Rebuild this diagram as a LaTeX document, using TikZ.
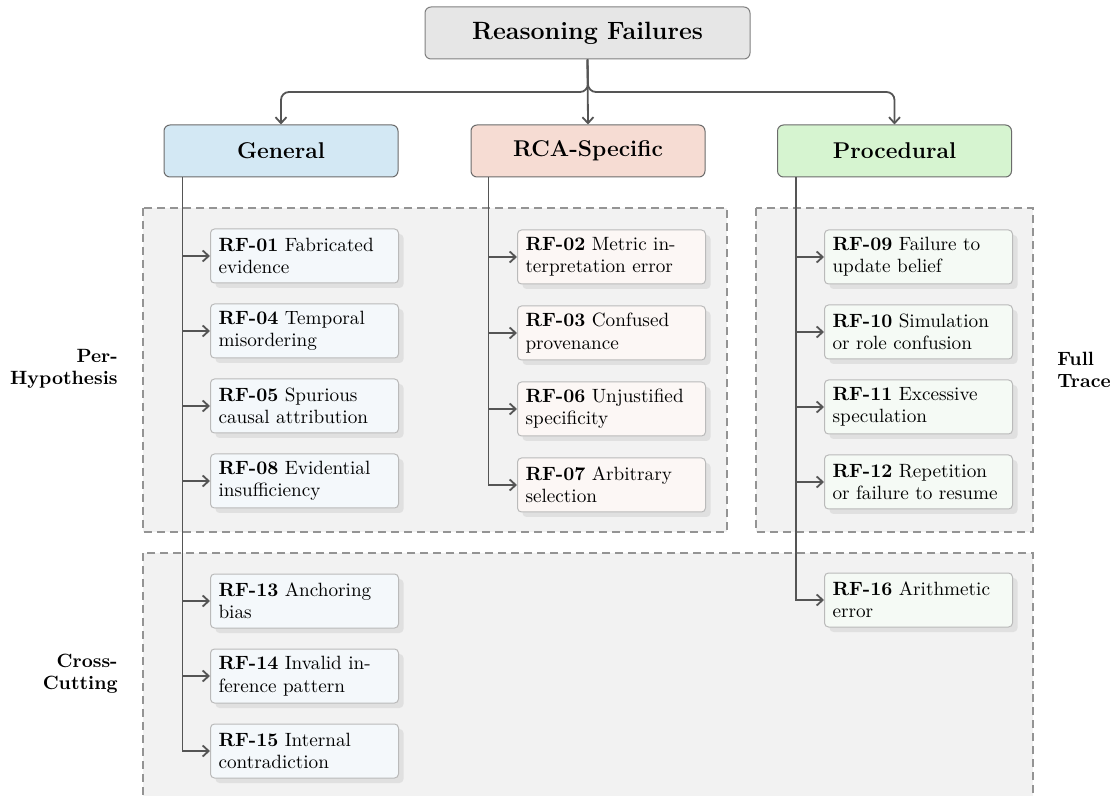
\documentclass[tikz,border=0pt]{standalone}
\usepackage{fontspec}
\usetikzlibrary{shadows,arrows.meta}
\definecolor{titlefill}{HTML}{E6E6E6}
\definecolor{genfill}{HTML}{D3E8F4}
\definecolor{rcafill}{HTML}{F6DCD3}
\definecolor{procfill}{HTML}{D6F4D0}
\definecolor{genleaf}{HTML}{F4F8FB}
\definecolor{rcaleaf}{HTML}{FCF7F5}
\definecolor{procleaf}{HTML}{F5FAF5}
\definecolor{regionfill}{HTML}{F2F2F2}
\definecolor{linecol}{HTML}{555555}
\begin{document}
\begin{tikzpicture}[x=0.5pt,y=-0.5pt,
  regionbox/.style={draw=black!42, dash pattern=on 4pt off 2.5pt, fill=regionfill, line width=0.6pt},
  titlebox/.style={draw=black!50, fill=titlefill, rounded corners=3pt, minimum width=162.5pt, minimum height=26pt, line width=0.5pt, font=\fontsize{12.5}{14}\selectfont\bfseries},
  catbox/.style={draw=black!58, rounded corners=3pt, minimum width=117pt, minimum height=26pt, line width=0.5pt, font=\fontsize{11.4}{13}\selectfont\bfseries},
  leafbox/.style={draw=black!27, line width=0.5pt, rounded corners=2pt, text width=86pt, inner xsep=4pt, inner ysep=2pt, minimum height=27pt, align=left, anchor=west, font=\fontsize{9.6}{11.2}\selectfont, general shadow={fill=black!12, shadow xshift=2.5pt, shadow yshift=-2.5pt}},
  lbl/.style={inner sep=0pt, font=\fontsize{9.6}{11}\selectfont\bfseries},
  conn/.style={draw=linecol, line width=0.9pt, -{Straight Barb[length=3pt,width=5.5pt]}}
]
\useasboundingbox (0,0) rectangle (1114,796);

% regions
\path[regionbox] (143,208) rectangle (727,532);
\path[regionbox] (756,208) rectangle (1033,532);
\path[regionbox] (143,553) rectangle (1033,800);

% side labels
\node[lbl, align=right, anchor=east] (lper) at (118,369) {Per-\\Hypothesis};
\node[lbl, align=left, anchor=west] (lfull) at (1057,370) {Full\\Trace};
\node[lbl, align=right, anchor=east] (lcross) at (118,674) {Cross-\\Cutting};

% title and categories
\node[titlebox] (root) at (587.5,33) {Reasoning Failures};
\node[catbox, fill=genfill] (gen) at (281,151) {General};
\node[catbox, fill=rcafill] (rca) at (588,151) {RCA-Specific};
\node[catbox, fill=procfill] (proc) at (894.5,151) {Procedural};

\coordinate (split) at (588,92);
\draw[conn, rounded corners=4pt] (root.south) -- (split) -| (gen.north);
\draw[conn, rounded corners=4pt] (root.south) -- (split) -| (proc.north);
\draw[conn] (root.south) -- (rca.north);

% leaves: General
\node[leafbox, fill=genleaf] (rf01) at (210,256) {\textbf{RF-01} Fabricated\\evidence};
\node[leafbox, fill=genleaf] (rf04) at (210,331) {\textbf{RF-04} Temporal\\misordering};
\node[leafbox, fill=genleaf] (rf05) at (210,406) {\textbf{RF-05} Spurious\\causal attribution};
\node[leafbox, fill=genleaf] (rf08) at (210,481) {\textbf{RF-08} Evidential\\insufficiency};
\node[leafbox, fill=genleaf] (rf13) at (210,601) {\textbf{RF-13} Anchoring\\bias};
\node[leafbox, fill=genleaf] (rf14) at (210,676) {\textbf{RF-14} Invalid in-\\ference pattern};
\node[leafbox, fill=genleaf] (rf15) at (210,751) {\textbf{RF-15} Internal\\contradiction};

% leaves: RCA
\node[leafbox, fill=rcaleaf] (rf02) at (517,257) {\textbf{RF-02} Metric in-\\terpretation error};
\node[leafbox, fill=rcaleaf] (rf03) at (517,333) {\textbf{RF-03} Confused\\provenance};
\node[leafbox, fill=rcaleaf] (rf06) at (517,409) {\textbf{RF-06} Unjustified\\specificity};
\node[leafbox, fill=rcaleaf] (rf07) at (517,485) {\textbf{RF-07} Arbitrary\\selection};

% leaves: Procedural
\node[leafbox, fill=procleaf] (rf09) at (824,257) {\textbf{RF-09} Failure to\\update belief};
\node[leafbox, fill=procleaf] (rf10) at (824,332) {\textbf{RF-10} Simulation\\or role confusion};
\node[leafbox, fill=procleaf] (rf11) at (824,407) {\textbf{RF-11} Excessive\\speculation};
\node[leafbox, fill=procleaf] (rf12) at (824,482) {\textbf{RF-12} Repetition\\or failure to resume};
\node[leafbox, fill=procleaf] (rf16) at (824,600) {\textbf{RF-16} Arithmetic\\error};

% stems
\coordinate (gs) at ([xshift=9.5pt]gen.south west);
\coordinate (rs) at ([xshift=9pt]rca.south west);
\coordinate (ps) at ([xshift=9.5pt]proc.south west);

\draw[conn] (gs) |- (rf15.west);
\foreach \n in {rf01,rf04,rf05,rf08,rf13,rf14}{
  \draw[conn] (gs |- \n.west) -- (\n.west);
}
\draw[conn] (rs) |- (rf07.west);
\foreach \n in {rf02,rf03,rf06}{
  \draw[conn] (rs |- \n.west) -- (\n.west);
}
\draw[conn] (ps) |- (rf16.west);
\foreach \n in {rf09,rf10,rf11,rf12}{
  \draw[conn] (ps |- \n.west) -- (\n.west);
}
\end{tikzpicture}
\end{document}
